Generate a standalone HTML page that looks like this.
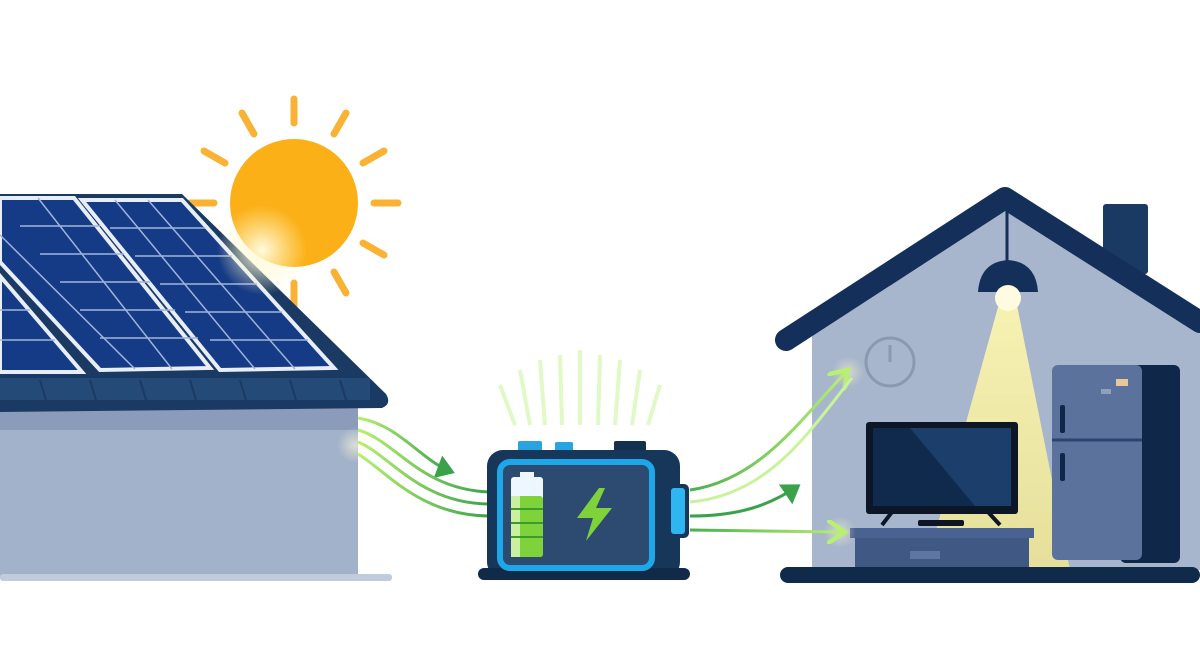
<!DOCTYPE html>
<html><head><meta charset="utf-8"><style>html,body{margin:0;padding:0;background:#fff}svg{display:block}</style></head>
<body>
<svg width="1200" height="669" viewBox="0 0 1200 669" xmlns="http://www.w3.org/2000/svg">
<defs>
<radialGradient id="glow" cx="0.5" cy="0.5" r="0.5"><stop offset="0" stop-color="#fffbe0" stop-opacity="1"/><stop offset="1" stop-color="#fff6c0" stop-opacity="0"/></radialGradient>
<linearGradient id="cone" x1="0" y1="0" x2="0" y2="1"><stop offset="0" stop-color="#fff9b0" stop-opacity="0.9"/><stop offset="1" stop-color="#f6ea90" stop-opacity="0.8"/></linearGradient>
<linearGradient id="gl" x1="0" y1="0" x2="1" y2="0"><stop offset="0" stop-color="#b8f070"/><stop offset="1" stop-color="#3aa24a"/></linearGradient>
<linearGradient id="gr" x1="0" y1="0" x2="1" y2="0"><stop offset="0" stop-color="#4caf50"/><stop offset="1" stop-color="#b8f070"/></linearGradient>
<marker id="ah" markerWidth="8" markerHeight="8" refX="5" refY="4" orient="auto" markerUnits="strokeWidth"><path d="M0,0 L6,4 L0,8 Z" fill="#3aa24a"/></marker>
<marker id="ao" markerWidth="8" markerHeight="8" refX="5" refY="4" orient="auto" markerUnits="strokeWidth"><path d="M0,0 L6,4 L0,8" fill="none" stroke="#b8f070" stroke-width="1.5"/></marker>
</defs>

<!-- sun -->
<g stroke="#f9b233" stroke-width="7" stroke-linecap="round">
<g transform="translate(294,203)">
<line x1="0" y1="-80" x2="0" y2="-104"/><line x1="0" y1="80" x2="0" y2="104"/>
<line x1="80" y1="0" x2="104" y2="0"/><line x1="-80" y1="0" x2="-104" y2="0"/>
<line x1="40" y1="-69" x2="52" y2="-90"/><line x1="-40" y1="-69" x2="-52" y2="-90"/>
<line x1="40" y1="69" x2="52" y2="90"/><line x1="-40" y1="69" x2="-52" y2="90"/>
<line x1="69" y1="-40" x2="90" y2="-52"/><line x1="-69" y1="-40" x2="-90" y2="-52"/>
<line x1="69" y1="40" x2="90" y2="52"/><line x1="-69" y1="40" x2="-90" y2="52"/>
</g></g>
<circle cx="294" cy="203" r="64" fill="#fbb017"/>

<!-- left house wall -->
<rect x="0" y="405" width="358" height="173" fill="#a2b2cb"/>
<rect x="0" y="405" width="358" height="25" fill="#8a9cba"/>
<rect x="0" y="574" width="392" height="7" rx="3" fill="#c0cbdb"/>
<!-- roof -->
<path d="M0,194 L182,194 L386,394 Q392,404 382,408 L0,412 Z" fill="#1b3a63"/>
<rect x="0" y="378" width="370" height="22" fill="#244a78"/>
<g stroke="#1b3a63" stroke-width="2">
<line x1="40" y1="380" x2="46" y2="400"/><line x1="90" y1="380" x2="96" y2="400"/><line x1="140" y1="380" x2="146" y2="400"/><line x1="190" y1="380" x2="196" y2="400"/><line x1="240" y1="380" x2="246" y2="400"/><line x1="290" y1="380" x2="296" y2="400"/><line x1="340" y1="380" x2="346" y2="400"/></g>
<!-- panels -->
<g stroke="#e8eef8" stroke-width="4" fill="#153a86">
<path d="M0,276 L82,372 L0,372 Z"/>
<path d="M0,198 L74,198 L210,368 L100,370 L0,262 Z"/>
<path d="M82,200 L182,200 L334,368 L220,370 Z"/>
</g>
<g stroke="#9fb4dc" stroke-width="1.5">
<line x1="110" y1="228" x2="205" y2="228"/><line x1="135" y1="256" x2="232" y2="256"/><line x1="160" y1="284" x2="257" y2="284"/><line x1="185" y1="312" x2="282" y2="312"/><line x1="210" y1="340" x2="308" y2="340"/>
<line x1="115" y1="200" x2="255" y2="369"/><line x1="148" y1="200" x2="295" y2="369"/>
<line x1="20" y1="226" x2="100" y2="226"/><line x1="40" y1="254" x2="124" y2="254"/><line x1="60" y1="282" x2="150" y2="282"/><line x1="80" y1="310" x2="175" y2="310"/><line x1="100" y1="338" x2="198" y2="338"/>
<line x1="0" y1="235" x2="135" y2="369"/><line x1="38" y1="198" x2="172" y2="369"/>
<line x1="0" y1="310" x2="30" y2="310"/><line x1="0" y1="340" x2="55" y2="340"/>
</g>
<circle cx="262" cy="250" r="45" fill="url(#glow)"/>
<circle cx="355" cy="445" r="18" fill="url(#glow)" opacity="0.6"/>

<!-- left flows -->
<g fill="none" stroke="url(#gl)" stroke-width="3">
<path d="M358,418 C400,425 420,460 452,472" marker-end="url(#ah)"/>
<path d="M358,430 C395,440 420,490 490,492"/>
<path d="M358,442 C390,455 420,504 490,504"/>
<path d="M358,454 C385,470 420,516 490,516"/>
</g>
<!-- battery glow lines -->
<g stroke="#c9f39a" stroke-width="4" opacity="0.55">
<line x1="520" y1="370" x2="530" y2="425"/><line x1="540" y1="360" x2="545" y2="425"/><line x1="560" y1="355" x2="562" y2="425"/><line x1="580" y1="350" x2="580" y2="425"/><line x1="600" y1="355" x2="598" y2="425"/><line x1="620" y1="360" x2="615" y2="425"/><line x1="640" y1="370" x2="632" y2="425"/><line x1="500" y1="385" x2="515" y2="425"/><line x1="660" y1="385" x2="648" y2="425"/>
</g>

<!-- battery -->
<rect x="518" y="441" width="24" height="12" rx="2" fill="#2aa4e0"/>
<rect x="555" y="442" width="18" height="10" rx="2" fill="#2aa4e0"/>
<rect x="614" y="441" width="32" height="12" rx="2" fill="#14304f"/>
<rect x="487" y="450" width="193" height="128" rx="16" fill="#16365a"/>
<rect x="667" y="484" width="22" height="54" rx="5" fill="#16365a"/>
<rect x="671" y="488" width="14" height="46" rx="3" fill="#2fb6f0"/>
<rect x="478" y="568" width="212" height="12" rx="6" fill="#102a48"/>
<rect x="500" y="462" width="152" height="106" rx="10" fill="#2d4a70" stroke="#1ea7e8" stroke-width="6"/>
<rect x="520" y="472" width="14" height="6" fill="#eef6ff"/>
<rect x="511" y="477" width="32" height="80" rx="3" fill="#eef6ff"/>
<rect x="511" y="496" width="32" height="61" rx="3" fill="#7fd33a"/>
<rect x="511" y="496" width="9" height="61" fill="#c8f0a0"/>
<g stroke="#3e9a2a" stroke-width="2"><line x1="511" y1="509" x2="543" y2="509"/><line x1="511" y1="523" x2="543" y2="523"/><line x1="511" y1="537" x2="543" y2="537"/></g>
<path d="M599,488 L577,518 L593,518 L586,541 L612,508 L596,508 L605,488 Z" fill="#7fd33a"/>

<!-- right house -->
<rect x="1103" y="204" width="45" height="70" rx="3" fill="#1b3a63"/>
<path d="M812,335 L1005,205 L1200,330 L1200,570 L812,570 Z" fill="#a8b6cd"/>
<path d="M1000,300 L1016,300 L1070,570 L925,570 Z" fill="url(#cone)"/>
<path d="M786,340 L1005,198 L1200,322" fill="none" stroke="#14305a" stroke-width="22" stroke-linecap="round" stroke-linejoin="round"/>
<line x1="1007" y1="210" x2="1007" y2="265" stroke="#14305a" stroke-width="3"/>
<path d="M978,292 Q980,262 1008,260 Q1036,262 1038,292 Z" fill="#14305a"/>
<circle cx="1008" cy="298" r="13" fill="#fffbe0"/>
<circle cx="890" cy="362" r="24" fill="none" stroke="#8b98af" stroke-width="3"/>
<line x1="890" y1="362" x2="890" y2="345" stroke="#8b98af" stroke-width="3"/>
<!-- TV and stand -->
<rect x="850" y="528" width="184" height="10" fill="#4a6290"/>
<rect x="855" y="538" width="174" height="30" fill="#3f5884"/>
<rect x="910" y="551" width="30" height="8" fill="#5d76a2"/>
<path d="M882,525 L892,512 M988,512 L1000,525" stroke="#0c1626" stroke-width="4"/>
<rect x="918" y="520" width="46" height="6" rx="2" fill="#0c1626"/>
<rect x="866" y="422" width="152" height="92" rx="3" fill="#0c1626"/>
<rect x="873" y="428" width="138" height="78" fill="#0f2a4d"/>
<path d="M910,428 L1011,428 L1011,506 L975,506 Z" fill="#1b3e6a"/>
<!-- fridge -->
<rect x="1120" y="365" width="60" height="198" rx="6" fill="#0f2849"/>
<rect x="1052" y="365" width="90" height="195" rx="6" fill="#5a729c"/>
<line x1="1052" y1="440" x2="1142" y2="440" stroke="#2b4570" stroke-width="3"/>
<rect x="1060" y="405" width="5" height="28" rx="2" fill="#0f2849"/>
<rect x="1060" y="453" width="5" height="28" rx="2" fill="#0f2849"/>
<rect x="1116" y="379" width="12" height="7" fill="#e8c89a"/>
<rect x="1101" y="389" width="10" height="5" fill="#8fa0bd"/>
<rect x="780" y="567" width="420" height="16" rx="8" fill="#102a4a"/>

<!-- right flows (on top) -->
<circle cx="848" cy="372" r="16" fill="url(#glow)" opacity="0.5"/>
<circle cx="840" cy="532" r="16" fill="url(#glow)" opacity="0.5"/>
<g fill="none" stroke-width="3">
<path d="M690,490 C760,480 800,420 846,372" stroke="url(#gr)" marker-end="url(#ao)"/>
<path d="M690,502 C770,495 810,430 852,378" stroke="#c9f39a"/>
<path d="M690,516 C740,516 770,505 798,486" stroke="#3aa24a" marker-end="url(#ah)"/>
<path d="M690,530 L842,532" stroke="url(#gr)" marker-end="url(#ao)"/>
</g>
</svg>
</body></html>
